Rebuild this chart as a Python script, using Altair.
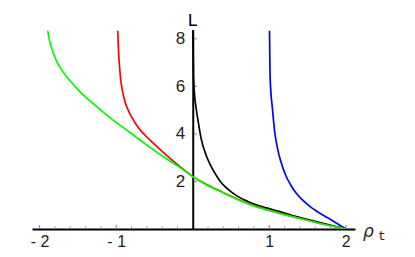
import altair as alt
import pandas as pd

# ---- data ----
green_x = [-1.895, -1.87, -1.83, -1.77, -1.70, -1.59, -1.48, -1.26, -1.05, -0.83, -0.61, -0.39, -0.17, 0.0,
           0.175, 0.39, 0.61, 0.83, 1.05, 1.27, 1.49, 1.70, 2.0]
green_y = [8.34, 7.90, 7.47, 7.00, 6.63, 6.18, 5.79, 5.16, 4.60, 4.08, 3.55, 3.05, 2.59, 2.20,
           1.86, 1.53, 1.20, 0.93, 0.73, 0.54, 0.37, 0.20, 0.0]

red_x = [-0.98, -0.97, -0.958, -0.94, -0.915, -0.88, -0.83, -0.77, -0.70, -0.61, -0.52, -0.35, -0.17, 0.0,
         0.175, 0.39, 0.61, 0.83, 1.05, 1.27, 1.49, 1.70, 2.0]
red_y = [8.34, 7.50, 6.90, 6.25, 5.75, 5.30, 4.90, 4.55, 4.22, 3.90, 3.62, 3.12, 2.63, 2.21,
         1.88, 1.55, 1.22, 0.95, 0.74, 0.55, 0.38, 0.21, 0.0]

black_x = [0.003, 0.006, 0.01, 0.02, 0.044, 0.078, 0.11, 0.175, 0.23, 0.284, 0.36, 0.437, 0.52, 0.61,
           0.72, 0.83, 1.05, 1.27, 1.49, 1.70, 2.0]
black_y = [8.38, 7.40, 6.50, 5.79, 5.09, 4.39, 3.80, 3.10, 2.70, 2.38, 2.00, 1.74, 1.52, 1.33,
           1.16, 1.02, 0.81, 0.60, 0.41, 0.24, 0.0]

blue_x = [1.003, 1.006, 1.01, 1.02, 1.04, 1.07, 1.11, 1.15, 1.22, 1.28, 1.35, 1.44, 1.53, 1.62, 1.70,
          1.80, 1.88, 2.0]
blue_y = [8.34, 7.40, 6.50, 5.80, 5.10, 4.10, 3.35, 2.85, 2.22, 1.85, 1.51, 1.20, 0.95, 0.75, 0.59,
          0.40, 0.24, 0.0]

x_major = [-2, -1, 1, 2]
x_minor = [-1.8, -1.6, -1.4, -1.2, -0.8, -0.6, -0.4, -0.2, 0.2, 0.4, 0.6, 0.8, 1.2, 1.4, 1.6, 1.8]
y_major = [2, 4, 6, 8]

X_DOM = [-2.1, 2.12]
Y_DOM = [0, 8.37]
W, H = 323, 199
X0 = (0 - X_DOM[0]) / (X_DOM[1] - X_DOM[0]) * W  # pixel of rho=0 inside plot

xs = alt.Scale(domain=X_DOM, nice=False, zero=False)
ys = alt.Scale(domain=Y_DOM, nice=False, zero=False)

DIGIT_FONT = "Liberation Sans"

XAXIS = alt.Axis(
    values=x_major, ticks=False, grid=False, domainColor="black", domainWidth=2,
    labelExpr="datum.value < 0 ? '- ' + format(-datum.value, 'd') : format(datum.value, 'd')",
    labelFont=DIGIT_FONT, labelFontSize=16, labelColor="#222", labelPadding=4, title=None)
YAXIS = alt.Axis(
    values=y_major, ticks=False, grid=False, domainColor="black", domainWidth=2,
    offset=-X0, labelFont=DIGIT_FONT, labelFontSize=17, labelColor="#222",
    labelPadding=8, title=None)


def curve(xv, yv, color):
    df = pd.DataFrame({"rho": xv, "L": yv})
    return alt.Chart(df).mark_line(color=color, strokeWidth=1.7, interpolate="monotone", clip=True).encode(
        x=alt.X("rho:Q", scale=xs, axis=XAXIS),
        y=alt.Y("L:Q", scale=ys, axis=YAXIS),
    )


xticks = alt.Chart(pd.DataFrame({"t": x_major})).mark_rule(color="#777", strokeWidth=1).encode(
    x=alt.X("t:Q", scale=xs, axis=XAXIS),
    y=alt.value(H - 1),
    y2=alt.value(H - 4),
)

xminor = alt.Chart(pd.DataFrame({"t": x_minor})).mark_rule(color="#aaa", strokeWidth=1).encode(
    x=alt.X("t:Q", scale=xs, axis=XAXIS),
    y=alt.value(H - 1),
    y2=alt.value(H - 3),
)

yticks = alt.Chart(pd.DataFrame({"v": y_major})).mark_rule(color="#777", strokeWidth=1).encode(
    y=alt.Y("v:Q", scale=ys, axis=YAXIS),
    x=alt.value(X0 + 1),
    x2=alt.value(X0 + 4),
)

lab_L = alt.Chart(pd.DataFrame({"s": ["L"]})).mark_text(
    font="Liberation Mono", fontSize=18, color="black", baseline="middle", align="center").encode(
    x=alt.X(datum=0, scale=xs, axis=XAXIS), y=alt.value(-9), text="s:N")

lab_rho = alt.Chart(pd.DataFrame({"s": ["ρ"]})).mark_text(
    font="DejaVu Sans", fontSize=17, fontStyle="italic", color="#222", baseline="alphabetic", align="left").encode(
    x=alt.value(W + 8), y=alt.value(H + 8), text="s:N")

lab_t = alt.Chart(pd.DataFrame({"s": ["t"]})).mark_text(
    font="Liberation Mono", fontSize=13, color="#222", baseline="alphabetic", align="left").encode(
    x=alt.value(W + 23), y=alt.value(H + 11), text="s:N")

chart = alt.layer(
    xticks, xminor, yticks,
    curve(black_x, black_y, "#000000"),
    curve(blue_x, blue_y, "#0000ff"),
    curve(red_x, red_y, "#ff0000"),
    curve(green_x, green_y, "#00ff00"),
    lab_L, lab_rho, lab_t,
).properties(
    width=W, height=H,
    autosize=alt.AutoSizeParams(type="none"),
    padding={"left": 24, "top": 22, "right": 52, "bottom": 20},
    background="white",
).configure_view(stroke=None)

chart.save("out.html", embed_options={"renderer": "svg", "actions": False})
